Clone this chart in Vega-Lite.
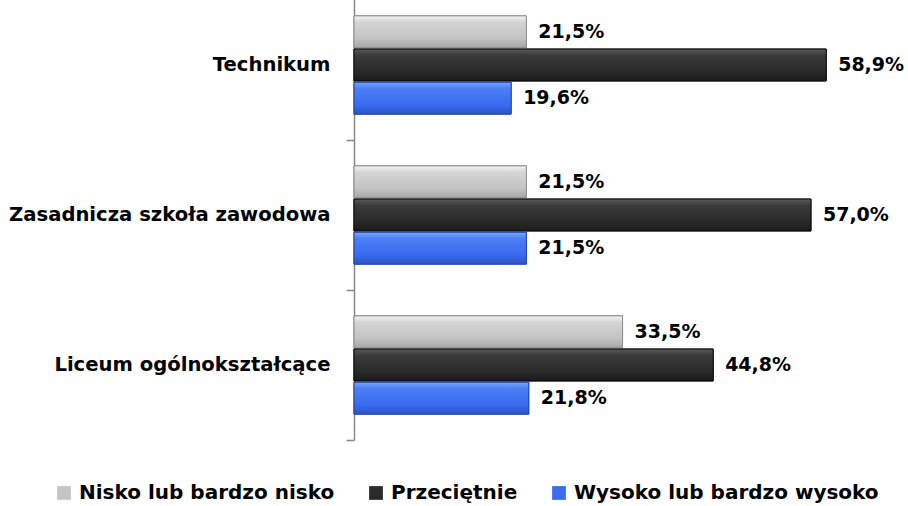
{
  "$schema": "https://vega.github.io/schema/vega-lite/v6.json",
  "width": 481,
  "height": 450,
  "autosize": {"type": "none"},
  "padding": {"left": 354, "top": -10, "right": 73, "bottom": 66},
  "background": "white",
  "data": {"values": [
    {"szkola": "Technikum", "seria": "Nisko lub bardzo nisko", "v": 21.5, "label": "21,5%"},
    {"szkola": "Technikum", "seria": "Przeciętnie", "v": 58.9, "label": "58,9%"},
    {"szkola": "Technikum", "seria": "Wysoko lub bardzo wysoko", "v": 19.6, "label": "19,6%"},
    {"szkola": "Zasadnicza szkoła zawodowa", "seria": "Nisko lub bardzo nisko", "v": 21.5, "label": "21,5%"},
    {"szkola": "Zasadnicza szkoła zawodowa", "seria": "Przeciętnie", "v": 57.0, "label": "57,0%"},
    {"szkola": "Zasadnicza szkoła zawodowa", "seria": "Wysoko lub bardzo wysoko", "v": 21.5, "label": "21,5%"},
    {"szkola": "Liceum ogólnokształcące", "seria": "Nisko lub bardzo nisko", "v": 33.5, "label": "33,5%"},
    {"szkola": "Liceum ogólnokształcące", "seria": "Przeciętnie", "v": 44.8, "label": "44,8%"},
    {"szkola": "Liceum ogólnokształcące", "seria": "Wysoko lub bardzo wysoko", "v": 21.8, "label": "21,8%"}
  ]},
  "encoding": {
    "y": {"field": "szkola", "type": "nominal", "sort": ["Technikum", "Zasadnicza szkoła zawodowa", "Liceum ogólnokształcące"],
      "scale": {"paddingInner": 0, "paddingOuter": 0},
      "axis": {"title": null, "bandPosition": 1, "domainColor": "#888888", "domainWidth": 1.5, "tickColor": "#888888", "tickWidth": 1.5, "tickSize": 8, "labelFont": "DejaVu Sans", "labelFontSize": 19.6, "labelFontWeight": "bold", "labelColor": "#000000", "labelPadding": 16, "grid": false, "labelBound": false, "labelLimit": 400}},
    "yOffset": {"field": "seria", "type": "nominal", "sort": ["Nisko lub bardzo nisko", "Przeciętnie", "Wysoko lub bardzo wysoko"],
      "scale": {"paddingInner": 0.04, "paddingOuter": 0.78}},
    "x": {"field": "v", "type": "quantitative", "scale": {"domain": [0, 60], "nice": false}, "axis": null}
  },
  "layer": [
    {
      "mark": {"type": "bar", "strokeWidth": 1},
      "encoding": {
        "color": {"field": "seria", "type": "nominal", "sort": ["Nisko lub bardzo nisko", "Przeciętnie", "Wysoko lub bardzo wysoko"],
          "scale": {"range": ["#c6c6c6", "#2b2b2b", "#3b6df0"]},
          "legend": {"title": null, "orient": "none", "legendX": -300, "legendY": 493, "direction": "horizontal", "columns": 3, "symbolType": "square", "symbolSize": 190, "symbolStrokeWidth": 1, "labelFont": "DejaVu Sans", "labelFontSize": 20, "labelFontWeight": "bold", "labelColor": "#000000", "columnPadding": 31, "labelOffset": 5, "labelLimit": 400}},
        "stroke": {"field": "seria", "type": "nominal", "sort": ["Nisko lub bardzo nisko", "Przeciętnie", "Wysoko lub bardzo wysoko"],
          "scale": {"range": ["#8e8e8e", "#0a0a0a", "#2546a8"]}, "legend": null}
      }
    },
    {
      "transform": [{"filter": "datum.seria == 'Nisko lub bardzo nisko'"}],
      "mark": {"type": "bar", "strokeWidth": 1, "stroke": "#8e8e8e",
        "fill": {"gradient": "linear", "x1": 0, "y1": 0, "x2": 0, "y2": 1, "stops": [
          {"offset": 0, "color": "#f4f4f4"}, {"offset": 0.2, "color": "#d4d4d4"}, {"offset": 0.7, "color": "#c4c4c4"}, {"offset": 1, "color": "#a6a6a6"}]}}
    },
    {
      "transform": [{"filter": "datum.seria == 'Przeciętnie'"}],
      "mark": {"type": "bar", "strokeWidth": 1, "stroke": "#0a0a0a",
        "fill": {"gradient": "linear", "x1": 0, "y1": 0, "x2": 0, "y2": 1, "stops": [
          {"offset": 0, "color": "#5a5a5a"}, {"offset": 0.2, "color": "#3a3a3a"}, {"offset": 0.7, "color": "#2a2a2a"}, {"offset": 1, "color": "#1a1a1a"}]}}
    },
    {
      "transform": [{"filter": "datum.seria == 'Wysoko lub bardzo wysoko'"}],
      "mark": {"type": "bar", "strokeWidth": 1, "stroke": "#2546a8",
        "fill": {"gradient": "linear", "x1": 0, "y1": 0, "x2": 0, "y2": 1, "stops": [
          {"offset": 0, "color": "#79a6fb"}, {"offset": 0.2, "color": "#4b7ef5"}, {"offset": 0.7, "color": "#3a6cf0"}, {"offset": 1, "color": "#2b54c8"}]}}
    },
    {
      "mark": {"type": "text", "align": "left", "baseline": "middle", "dx": 12, "font": "DejaVu Sans", "fontSize": 19, "fontWeight": "bold", "color": "#000000"},
      "encoding": {"text": {"field": "label"}}
    }
  ],
  "config": {"view": {"stroke": null}}
}
